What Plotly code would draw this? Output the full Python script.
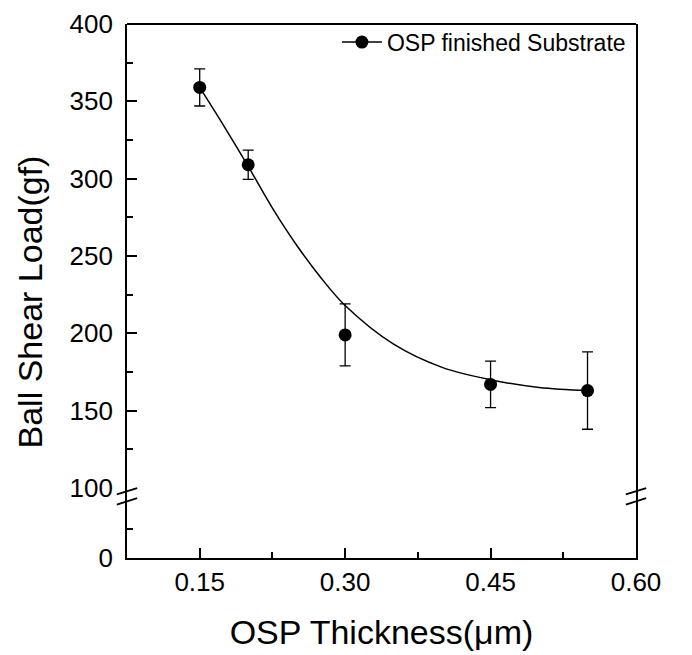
import plotly.graph_objects as go

# Data
thickness = [0.15, 0.20, 0.30, 0.45, 0.55]
shear_load = [359, 309, 199, 167, 163]
shear_err = [12, 9.5, 20, 15, 25]

# Smooth trend curve
curve_x = [0.15, 0.175, 0.20, 0.225, 0.25, 0.275, 0.30, 0.35, 0.40, 0.45, 0.50, 0.55]
curve_y = [359, 334, 308, 281, 257, 236, 218, 193, 178, 170, 165, 163]

x_ticks = [0.15, 0.30, 0.45, 0.60]
x_tick_labels = ["0.15", "0.30", "0.45", "0.60"]
y_ticks_upper = [100, 150, 200, 250, 300, 350, 400]
y_ticks_lower = [0]

FONT = "Liberation Sans, Arial, sans-serif"

fig = go.Figure()

fig.add_trace(go.Scatter(
    x=curve_x, y=curve_y, mode="lines",
    line=dict(color="black", width=1.5, shape="spline", smoothing=1.0),
    showlegend=False, hoverinfo="skip", xaxis="x", yaxis="y"))

fig.add_trace(go.Scatter(
    x=thickness, y=shear_load, mode="markers",
    name="OSP finished Substrate", showlegend=False,
    marker=dict(color="black", size=13, symbol="circle"),
    error_y=dict(type="data", array=shear_err, visible=True, color="black", thickness=1.3, width=5.5),
    xaxis="x", yaxis="y"))

# legend entry (line + dot symbol)
fig.add_trace(go.Scatter(
    x=[None], y=[None], mode="lines+markers", name="OSP finished Substrate",
    line=dict(color="black", width=1.5), marker=dict(color="black", size=13),
    showlegend=True, xaxis="x", yaxis="y"))

# invisible trace so the lower (broken) y-axis segment is drawn
fig.add_trace(go.Scatter(
    x=[None], y=[None], mode="markers", showlegend=False, hoverinfo="skip",
    xaxis="x", yaxis="y2"))

d = 0.131
axis_common = dict(showline=True, linecolor="black", linewidth=1.8,
                   showgrid=False, zeroline=False, ticks="inside", tickcolor="black",
                   tickwidth=1.5, ticklen=10, automargin=False,
                   tickfont=dict(family=FONT, size=26, color="black"))

fig.update_layout(
    width=692, height=655,
    margin=dict(l=119, r=64, t=16, b=105),
    paper_bgcolor="white", plot_bgcolor="white",
    font=dict(family=FONT, color="black"),
    xaxis=dict(range=[0.075, 0.60], tickvals=x_ticks, ticktext=x_tick_labels,
               minor=dict(ticks="inside", tickvals=[0.225, 0.375, 0.525], ticklen=6, tickwidth=1.5, tickcolor="black"),
               anchor="y2", mirror=False,
               title=dict(text="OSP Thickness(μm)", font=dict(family=FONT, size=34), standoff=24),
               **axis_common),
    yaxis=dict(domain=[d, 1], range=[100, 400], tickvals=y_ticks_upper, mirror=True,
               minor=dict(ticks="inside", tickvals=[125, 175, 225, 275, 325, 375], ticklen=6, tickwidth=1.5, tickcolor="black"),
               anchor="x", ticklabelstandoff=7, **axis_common),
    yaxis2=dict(domain=[0, d], range=[0, 120], tickvals=y_ticks_lower, mirror=True,
                minor=dict(ticks="inside", tickvals=[50], ticklen=6, tickwidth=1.5, tickcolor="black"),
                anchor="x", ticklabelstandoff=7, **axis_common),
    legend=dict(x=0.99, y=0.966, xanchor="right", yanchor="middle", bgcolor="rgba(0,0,0,0)",
                font=dict(family=FONT, size=23, color="black"), itemwidth=40),
    annotations=[dict(text="Ball Shear Load(gf)", xref="paper", yref="paper", x=-0.19, y=0.479,
                      textangle=-90, showarrow=False, xanchor="center", yanchor="middle",
                      font=dict(family=FONT, size=34, color="black"))],
)

# top frame line and axis break marks
shapes = [dict(type="line", xref="paper", yref="paper", x0=0, y0=1, x1=1, y1=1,
               line=dict(color="black", width=1.8))]
for px in [0.0, 1.0]:
    for dy in [-0.006, -0.025]:
        shapes.append(dict(type="line", xref="paper", yref="paper",
                           x0=px - 0.02, y0=d + dy - 0.006, x1=px + 0.02, y1=d + dy + 0.006,
                           line=dict(color="black", width=1.8)))
fig.update_layout(shapes=shapes)

fig.write_html("out.html")
